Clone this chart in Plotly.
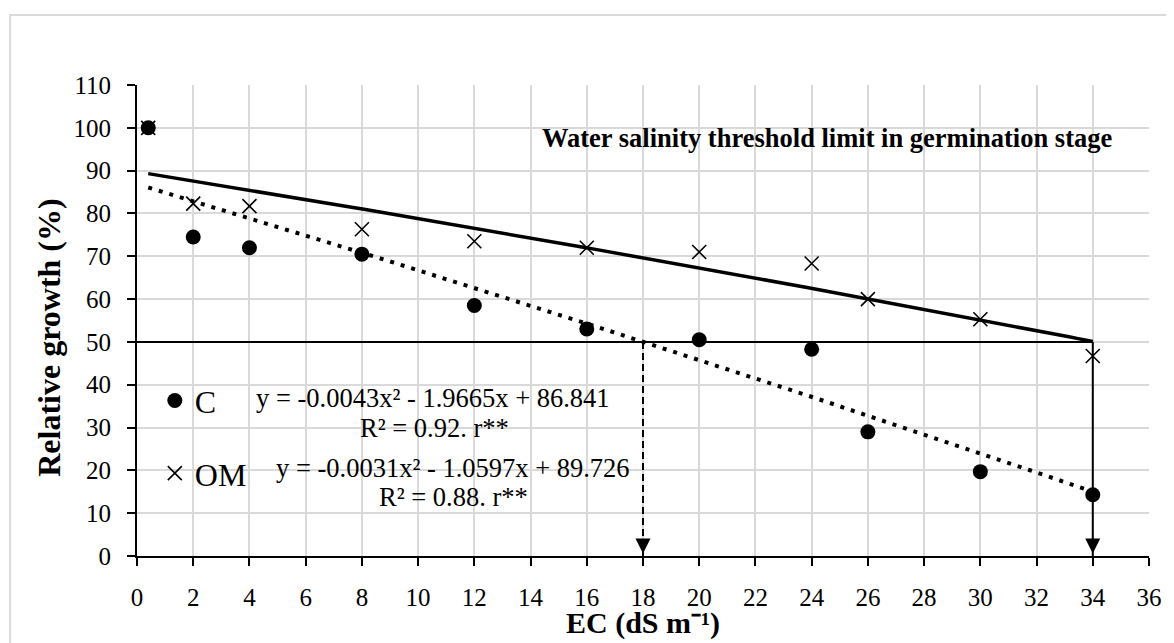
import numpy as np
import plotly.graph_objects as go

# ---- data ----
ec_c = [0.4, 2, 4, 8, 12, 16, 20, 24, 26, 30, 34]
rg_c = [100, 74.5, 72, 70.5, 58.5, 53, 50.5, 48.3, 29, 19.7, 14.3]
ec_om = [0.4, 2, 4, 8, 12, 16, 20, 24, 26, 30, 34]
rg_om = [100, 82.3, 81.7, 76.3, 73.5, 72, 71, 68.3, 60, 55.3, 46.7]

# trendline coefficients shown on the chart (a, b, c for a*x^2 + b*x + c)
coef_c = [-0.0043, -1.9665, 86.841]
coef_om = [-0.0031, -1.0597, 89.726]
trend_range = [0.4, 34]

threshold_y = 50
threshold_c_x = 18
threshold_om_x = 34

x_ticks = list(range(0, 38, 2))
y_ticks = list(range(0, 120, 10))

FONT = "Liberation Serif"

fig = go.Figure()

xt = np.linspace(trend_range[0], trend_range[1], 120)
yt_c = coef_c[0] * xt**2 + coef_c[1] * xt + coef_c[2]
yt_om = coef_om[0] * xt**2 + coef_om[1] * xt + coef_om[2]

# threshold guide lines
fig.add_trace(go.Scatter(x=[0, threshold_om_x], y=[threshold_y, threshold_y], mode="lines",
                         line=dict(color="black", width=2), showlegend=False, hoverinfo="skip"))
fig.add_trace(go.Scatter(x=[threshold_c_x, threshold_c_x], y=[threshold_y, 0], mode="lines",
                         line=dict(color="black", width=2, dash="7px,4px"), showlegend=False, hoverinfo="skip"))
fig.add_trace(go.Scatter(x=[threshold_om_x, threshold_om_x], y=[threshold_y, 0], mode="lines",
                         line=dict(color="black", width=2), showlegend=False, hoverinfo="skip"))
fig.add_trace(go.Scatter(x=[threshold_c_x, threshold_om_x], y=[0.6, 0.6], mode="markers",
                         marker=dict(symbol="arrow-down", size=15, color="black"),
                         cliponaxis=False, showlegend=False, hoverinfo="skip"))

# trendlines
fig.add_trace(go.Scatter(x=xt, y=yt_c, mode="lines", line=dict(color="black", width=4, dash="4px,7px"),
                         showlegend=False, hoverinfo="skip"))
fig.add_trace(go.Scatter(x=xt, y=yt_om, mode="lines", line=dict(color="black", width=3.5),
                         showlegend=False, hoverinfo="skip"))

# data points
fig.add_trace(go.Scatter(x=ec_om, y=rg_om, mode="markers", name="OM", legendgroup="om", legendrank=2,
                         marker=dict(symbol="x-thin", size=14, line=dict(color="black", width=1.6))))
fig.add_trace(go.Scatter(x=ec_c, y=rg_c, mode="markers", name="C", legendgroup="c", legendrank=1,
                         marker=dict(symbol="circle", size=15, color="black")))

ann_font = dict(family=FONT, size=26.5, color="black")
annotations = [
    dict(x=10.54, y=36.9, text="y = -0.0043x² - 1.9665x + 86.841"),
    dict(x=10.57, y=29.9, text="R² = 0.92. r**"),
    dict(x=11.25, y=20.55, text="y = -0.0031x² - 1.0597x + 89.726"),
    dict(x=11.25, y=13.8, text="R² = 0.88. r**"),
    dict(x=24.55, y=97.6, text="<b>Water salinity threshold limit in germination stage</b>",
         font=dict(family=FONT, size=26.5, color="black")),
]
for a in annotations:
    a.setdefault("font", ann_font)
    a.update(xref="x", yref="y", showarrow=False, xanchor="center", yanchor="middle")

annotations += [
    dict(x=-0.0872, y=0.4628, xref="paper", yref="paper", text="<b>Relative growth (%)</b>",
         textangle=-90, showarrow=False, xanchor="center", yanchor="middle",
         font=dict(family=FONT, size=32, color="black")),
    dict(x=0.5, y=-0.1423, xref="paper", yref="paper", text="<b>EC (dS m⁻¹)</b>",
         showarrow=False, xanchor="center", yanchor="middle",
         font=dict(family=FONT, size=30, color="black")),
]

fig.update_layout(
    width=1166, height=635,
    margin=dict(l=129, r=16, t=77, b=87),
    paper_bgcolor="white", plot_bgcolor="white",
    font=dict(family=FONT, color="black"),
    annotations=annotations,
    showlegend=True,
    legend=dict(x=0.0176, y=0.388, xanchor="left", yanchor="top", traceorder="grouped",
                tracegroupgap=28, font=dict(family=FONT, size=32, color="black"),
                bgcolor="rgba(0,0,0,0)"),
    shapes=[dict(type="rect", xref="paper", yref="paper", x0=-0.1254, x1=1.3, y0=-0.4, y1=1.1486,
                 line=dict(color="#d9d9d9", width=2), layer="below")],
)
fig.update_xaxes(range=[0, 36], tickvals=x_ticks, showgrid=True, gridcolor="#d9d9d9", gridwidth=1.5,
                 showline=True, linecolor="black", linewidth=2, ticks="outside", ticklen=8,
                 tickwidth=1.5, tickcolor="black", tickfont=dict(family=FONT, size=25, color="black"),
                 ticklabelstandoff=10, zeroline=False)
fig.update_yaxes(range=[0, 110], tickvals=y_ticks, showgrid=True, gridcolor="#d9d9d9", gridwidth=1.5,
                 showline=True, linecolor="black", linewidth=2, ticks="outside", ticklen=8,
                 tickwidth=1.5, tickcolor="black", tickfont=dict(family=FONT, size=25, color="black"),
                 ticklabelstandoff=11, zeroline=False)

fig.write_html("out.html")
